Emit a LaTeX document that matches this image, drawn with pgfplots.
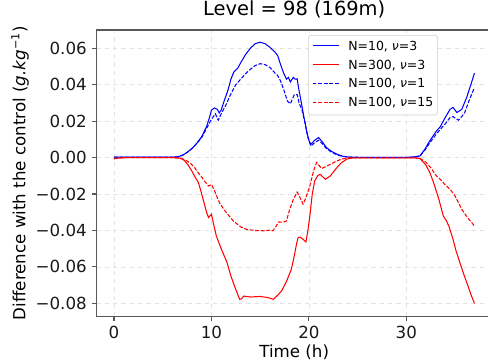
\documentclass[border=0pt]{standalone}
\usepackage{pgfplots}
\pgfplotsset{compat=1.18}
\usepackage{fontspec}
\setmainfont{DejaVu Sans}
\newcommand{\solidln}[1]{\textcolor{#1}{\rule[2.8pt]{18.7pt}{0.8pt}}\hspace{7pt}}
\newcommand{\dashln}[1]{\textcolor{#1}{\rule[2.8pt]{2.8pt}{0.8pt}\hspace{1.2pt}\rule[2.8pt]{2.8pt}{0.8pt}\hspace{1.2pt}\rule[2.8pt]{2.8pt}{0.8pt}\hspace{1.2pt}\rule[2.8pt]{2.8pt}{0.8pt}\hspace{1.2pt}\rule[2.8pt]{2.8pt}{0.8pt}}\hspace{7pt}}
\begin{document}
\begin{tikzpicture}
\begin{axis}[
  name=ax,
  scale only axis,
  width=284.8pt, height=206.3pt,
  xmin=-1.8, xmax=38.8,
  ymin=-0.0872, ymax=0.0700,
  scaled y ticks=false,
  axis line style={black!65, line width=0.8pt},
  tick style={black!65, line width=0.8pt},
  tick align=outside,
  major tick length=3.5pt,
  xtick={0,10,20,30},
  xticklabels={0,10,20,30},
  ytick={-0.08,-0.06,-0.04,-0.02,0,0.02,0.04,0.06},
  yticklabels={−0.08,−0.06,−0.04,−0.02,0.00,0.02,0.04,0.06},
  xtick pos=bottom, ytick pos=left,
  /pgf/number format/assume math mode=true,
  ticklabel style={font=\fontsize{12}{14}\selectfont, text=black!90},
  grid=major,
  major grid style={gray!22, dashed, line width=0.5pt},
  title={Level = 98 (169m)},
  title style={font=\fontsize{14}{16}\selectfont, at={(axis description cs:0.5,1)}, anchor=base, yshift=4.3pt},
  xlabel={Time (h)},
  xlabel style={font=\fontsize{12}{14}\selectfont, at={(axis description cs:0.5,-0.124)}, anchor=center},
  ylabel={Difference with the control (\textit{g.kg}\textsuperscript{−1})},
  ylabel style={font=\fontsize{12}{14}\selectfont, at={(axis description cs:-0.193,0.5)}, anchor=center},
  legend cell align=left,
  legend style={at={(axis description cs:0.863,0.9825)}, anchor=north east,
    draw=black!20, rounded corners=2pt, fill=white,
    font=\fontsize{9}{11}\selectfont,
    row sep=0pt, column sep=0pt, inner xsep=2pt, inner ysep=1.5pt,
    nodes={text height=6.5pt, text depth=1.6pt, inner ysep=2.75pt, inner xsep=1pt}},
  legend image code/.code={},
  every axis plot/.append style={line width=0.75pt},
]
% N=10, nu=3
\addplot[color=blue, solid] coordinates {
(0,0.0003)(1,0.0003)(2,0.0002)(3,0.0002)(4,0.0002)(5,0.0002)(6,0.0002)(6.6,0.0005)(7,0.0012)(7.5,0.0028)(8,0.005)(8.5,0.0078)(9,0.0115)(9.5,0.017)(9.8,0.022)(10.0,0.026)(10.3,0.0272)(10.6,0.0265)(10.8,0.0245)(11.0,0.026)(11.3,0.031)(11.7,0.037)(12.0,0.043)(12.3,0.047)(12.7,0.049)(13.0,0.052)(13.5,0.0565)(14.0,0.0600)(14.5,0.0625)(15.0,0.0633)(15.5,0.0625)(16.0,0.0605)(16.5,0.0580)(16.8,0.0560)(17.1,0.0510)(17.4,0.0465)(17.7,0.0430)(17.9,0.0440)(18.1,0.0415)(18.4,0.0440)(18.6,0.0430)(18.8,0.0432)(18.95,0.038)(19.2,0.031)(19.5,0.022)(19.8,0.014)(20.0,0.0095)(20.2,0.0073)(20.6,0.0095)(21.0,0.011)(21.4,0.0085)(21.8,0.0055)(22.3,0.0035)(22.9,0.0018)(23.5,0.0007)(24.2,0.0002)(25,0.0001)(27,0.0001)(30,0.0001)(30.7,0.0003)(31.4,0.0009)(31.9,0.0045)(32.4,0.0091)(33.1,0.0146)(33.5,0.017)(34.0,0.022)(34.5,0.0265)(34.8,0.0275)(35.2,0.0247)(35.7,0.0265)(36.2,0.033)(36.6,0.0395)(37.0,0.0463)
};
\addlegendentry{\solidln{blue}N=10, \textit{ν}=3}
% N=300, nu=3
\addplot[color=red, solid] coordinates {
(0,-0.0007)(0.5,-0.0003)(1,-0.0001)(2,0)(6,0)(6.8,-0.0003)(7.2,-0.0015)(7.6,-0.004)(8.0,-0.0075)(8.3,-0.0105)(8.66,-0.0137)(8.9,-0.018)(9.2,-0.024)(9.5,-0.030)(9.7,-0.0329)(10.0,-0.0311)(10.2,-0.036)(10.5,-0.043)(11.0,-0.050)(11.6,-0.0576)(12.0,-0.065)(12.4,-0.071)(12.9,-0.0778)(13.1,-0.0775)(13.3,-0.0760)(14,-0.0765)(15,-0.0762)(15.8,-0.0768)(16.35,-0.0778)(16.8,-0.0755)(17.2,-0.0732)(17.7,-0.068)(18.2,-0.0613)(18.5,-0.054)(18.75,-0.047)(18.9,-0.0439)(19.1,-0.0436)(19.4,-0.0448)(19.7,-0.0463)(19.9,-0.040)(20.1,-0.032)(20.35,-0.020)(20.6,-0.0128)(20.9,-0.0100)(21.15,-0.0092)(21.7,-0.0119)(22.2,-0.0101)(22.8,-0.006)(23.3,-0.003)(23.9,-0.0008)(24.5,-0.0002)(28,-0.0002)(31,-0.0002)(31.4,-0.0005)(32,-0.004)(32.4,-0.008)(32.8,-0.0137)(33.3,-0.022)(33.8,-0.032)(34.1,-0.0345)(34.4,-0.038)(34.8,-0.0448)(35.1,-0.051)(35.5,-0.0576)(35.9,-0.064)(36.3,-0.070)(36.7,-0.076)(37,-0.080)
};
\addlegendentry{\solidln{red}N=300, \textit{ν}=3}
% N=100, nu=1
\addplot[color=blue, dash pattern=on 2.8pt off 1.2pt] coordinates {
(0,0.0003)(1,0.0003)(2,0.0002)(4,0.0002)(6,0.0002)(6.6,0.0005)(7,0.0012)(7.5,0.0028)(8,0.005)(8.5,0.0078)(9,0.011)(9.5,0.016)(9.8,0.019)(10.0,0.021)(10.4,0.024)(10.7,0.0205)(11.0,0.024)(11.5,0.029)(12.0,0.035)(12.5,0.040)(13.0,0.043)(13.5,0.046)(14.0,0.0485)(14.5,0.0505)(15.0,0.0515)(15.5,0.0510)(16.0,0.0495)(16.5,0.0465)(16.8,0.045)(17.1,0.042)(17.5,0.036)(17.8,0.031)(18.1,0.0295)(18.3,0.032)(18.5,0.0345)(18.8,0.0345)(19.0,0.030)(19.3,0.026)(19.6,0.019)(19.9,0.011)(20.2,0.0063)(20.6,0.0082)(21.0,0.0095)(21.4,0.0075)(21.8,0.005)(22.3,0.003)(22.9,0.0015)(23.5,0.0006)(24.2,0.0002)(27,0.0001)(30,0.0001)(30.7,0.0003)(31.4,0.0008)(31.9,0.004)(32.4,0.008)(33.1,0.013)(33.5,0.0155)(34.0,0.0185)(34.5,0.022)(34.8,0.0225)(35.35,0.0205)(35.7,0.0225)(36.0,0.0247)(36.5,0.032)(37,0.0384)
};
\addlegendentry{\dashln{blue}N=100, \textit{ν}=1}
% N=100, nu=15
\addplot[color=red, dash pattern=on 2.8pt off 1.2pt] coordinates {
(0,-0.0005)(0.5,-0.0002)(1,0)(3,0)(6,0)(6.8,-0.0003)(7.3,-0.0012)(7.8,-0.003)(8.2,-0.005)(8.5,-0.0073)(8.9,-0.010)(9.3,-0.013)(9.7,-0.0156)(10.0,-0.0147)(10.3,-0.018)(10.6,-0.022)(10.9,-0.0256)(11.5,-0.030)(12.25,-0.0348)(13.0,-0.038)(13.6,-0.0394)(14.5,-0.040)(15.5,-0.0402)(16.0,-0.0398)(16.3,-0.0402)(16.6,-0.038)(16.9,-0.0353)(17.3,-0.0355)(17.7,-0.0348)(18.0,-0.029)(18.4,-0.023)(18.8,-0.0189)(19.1,-0.022)(19.4,-0.0256)(19.7,-0.022)(20.1,-0.0156)(20.5,-0.007)(20.8,-0.0027)(21.3,-0.006)(21.8,-0.0048)(22.2,-0.0037)(22.8,-0.002)(23.4,-0.0008)(24,-0.0002)(28,-0.0002)(31,-0.0002)(31.4,-0.0005)(32,-0.0025)(32.5,-0.0055)(33.1,-0.0101)(33.5,-0.012)(34.0,-0.015)(34.5,-0.0174)(35.0,-0.021)(35.7,-0.0284)(36.3,-0.033)(37.0,-0.0375)
};
\addlegendentry{\dashln{red}N=100, \textit{ν}=15}
\end{axis}
\pgfresetboundingbox
\path[use as bounding box] ([shift={(-69.48pt,-33.48pt)}]ax.south west) rectangle ([shift={(-2.88pt,21.6pt)}]ax.north east);
\end{tikzpicture}
\end{document}
